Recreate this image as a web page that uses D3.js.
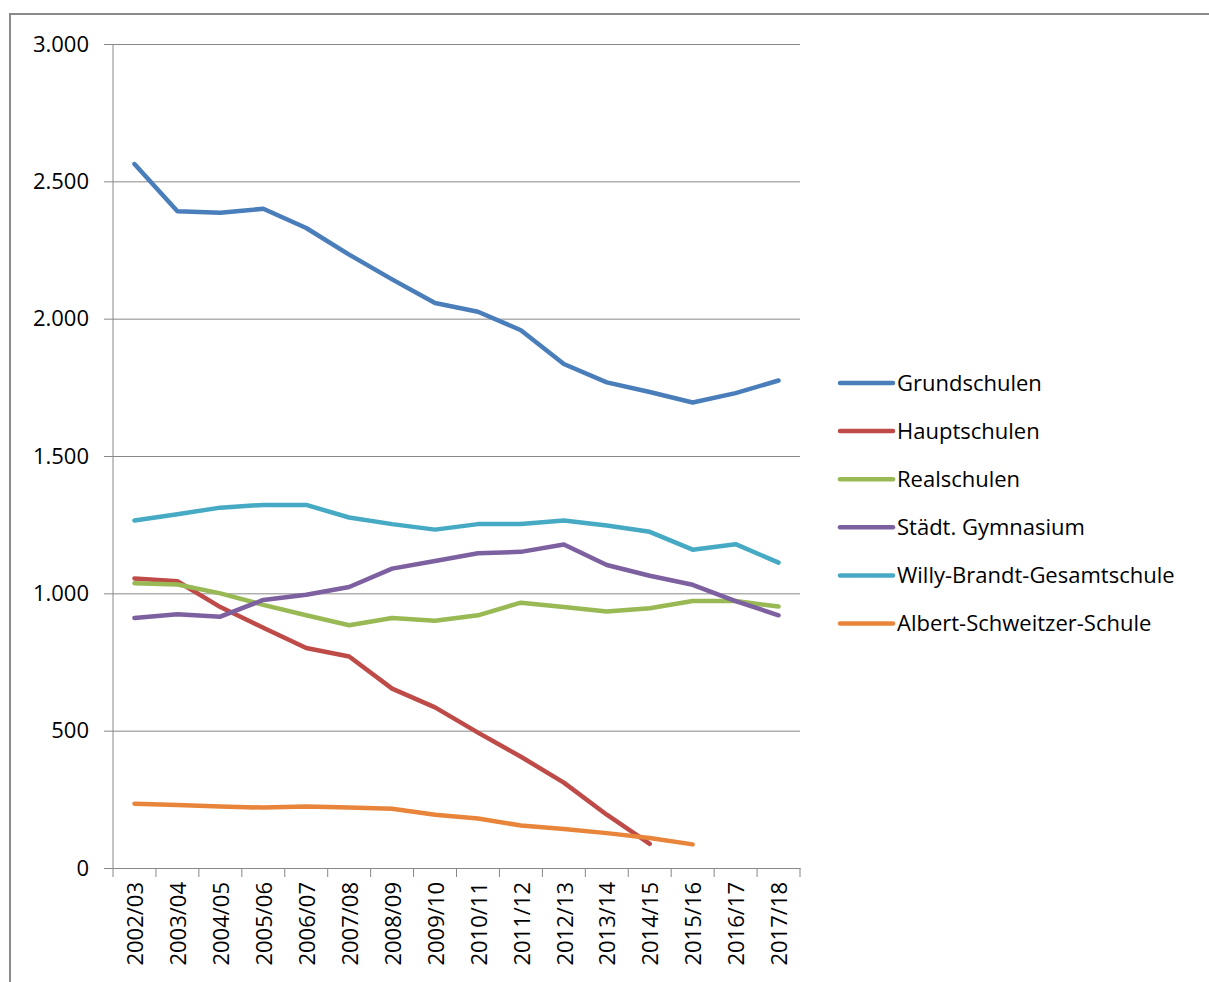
<!DOCTYPE html>
<html>
<head>
<meta charset="utf-8">
<script src="https://cdn.jsdelivr.net/npm/d3@7"></script>
<style>
  body { margin: 0; background: #fff; }
  text { font-family: "Open Sans", "Liberation Sans", Arial, sans-serif; fill: #000; }
</style>
</head>
<body>
<div id="chart"></div>
<script>
// Daten

var years = ["2002/03","2003/04","2004/05","2005/06","2006/07","2007/08","2008/09","2009/10",
             "2010/11","2011/12","2012/13","2013/14","2014/15","2015/16","2016/17","2017/18"];

var grundschulen = [2563, 2391, 2386, 2400, 2330, 2233, 2143, 2057, 2025, 1958, 1835, 1768, 1733, 1695, 1729, 1775];
var hauptschulen = [1054, 1044, 950, 875, 801, 770, 653, 585, 493, 405, 311, 194, 88];
var realschulen = [1037, 1032, 1000, 958, 920, 884, 910, 900, 920, 966, 950, 934, 946, 972, 972, 952];
var gymnasium = [910, 924, 915, 976, 995, 1023, 1090, 1118, 1146, 1151, 1178, 1103, 1064, 1031, 972, 920];
var gesamtschule = [1265, 1288, 1312, 1322, 1322, 1276, 1252, 1232, 1252, 1252, 1265, 1247, 1224, 1159, 1179, 1112];
var albert = [234, 229, 224, 220, 224, 220, 216, 194, 180, 155, 142, 127, 109, 86];

var names = ["Grundschulen","Hauptschulen","Realschulen","Städt. Gymnasium","Willy-Brandt-Gesamtschule","Albert-Schweitzer-Schule"];
var colors = ["#4A7EBB","#BE4B48","#98B954","#7D60A0","#46AAC5","#E8853A"];
var seriesValues = [grundschulen, hauptschulen, realschulen, gymnasium, gesamtschule, albert];

var yTicks = [0, 500, 1000, 1500, 2000, 2500, 3000];

// Flaeche

var width = 1209, height = 982;
var margin = {top: 44, right: 409, bottom: 114, left: 113};

var svg = d3.select("#chart").append("svg")
    .attr("width", width)
    .attr("height", height);

    svg.append("rect") // Rahmen
        .attr("x", 10)
        .attr("y", 14)
        .attr("width", width + 20)
        .attr("height", height + 20)
        .attr("fill", "none")
        .attr("stroke", "#8a8a8a")
        .attr("stroke-width", 2);

var x = d3.scaleBand()
    .domain(years)
    .range([margin.left, width - margin.right]);

var y = d3.scaleLinear()
    .domain([0, 3000])
    .range([height - margin.bottom, margin.top]);

var fmt = function(d) { return d3.format(",")(d).replace(/,/g, "."); };

// Y - Achse mit Gitterlinien
svg.append("g")
    .attr("transform", "translate(" + margin.left + ",0)")
    .call(d3.axisLeft(y).tickValues(yTicks).tickFormat(fmt)
        .tickSize(-(width - margin.right - margin.left)).tickPadding(24))
    .call(function(g) {
        g.select(".domain").remove();
        g.selectAll(".tick line").attr("stroke", "#888").attr("x1", -9);
        g.selectAll(".tick text").style("font-size", "22px").attr("fill", "#000");
    });

svg.append("line")
    .attr("x1", margin.left).attr("x2", margin.left)
    .attr("y1", margin.top).attr("y2", height - margin.bottom)
    .attr("stroke", "#888");

// X - Achse
var xAxis = svg.append("g")
    .attr("transform", "translate(0," + (height - margin.bottom) + ")")
    .call(d3.axisBottom(x).tickSize(0).tickPadding(0));

xAxis.select(".domain").attr("stroke", "#888");
xAxis.selectAll(".tick text")
    .style("font-size", "22px")
    .attr("text-anchor", "end")
    .attr("dy", "0.35em")
    .attr("transform", "translate(1,14) rotate(-90)");

var bounds = years.map(function(d) { return x(d); }).concat([x.range()[1]]);
xAxis.selectAll(".sep")
    .data(bounds)
    .enter().append("line")
    .attr("x1", function(d) { return d; })
    .attr("x2", function(d) { return d; })
    .attr("y1", 0).attr("y2", 9)
    .attr("stroke", "#888");

// Linien
var line = d3.line()
    .x(function(d, i) { return x(years[i]) + x.bandwidth() / 2; })
    .y(function(d) { return y(d); });

seriesValues.forEach(function(vals, k) {
    svg.append("path")
        .datum(vals)
        .attr("d", line)
        .attr("fill", "none")
        .attr("stroke", colors[k])
        .attr("stroke-width", 4.5)
        .attr("stroke-linejoin", "round")
        .attr("stroke-linecap", "round");
});

// Legende
var legend = svg.append("g")
    .attr("transform", "translate(840,383)");

names.forEach(function(n, k) {
    var row = legend.append("g").attr("transform", "translate(0," + (k * 48.1) + ")");
    row.append("line")
        .attr("x1", 0).attr("x2", 53)
        .attr("stroke", colors[k])
        .attr("stroke-width", 4.5)
        .attr("stroke-linecap", "round");
    row.append("text")
        .attr("x", 57)
        .attr("dy", "0.35em")
        .style("font-size", "22px")
        .text(n);
});
</script>
</body>
</html>
